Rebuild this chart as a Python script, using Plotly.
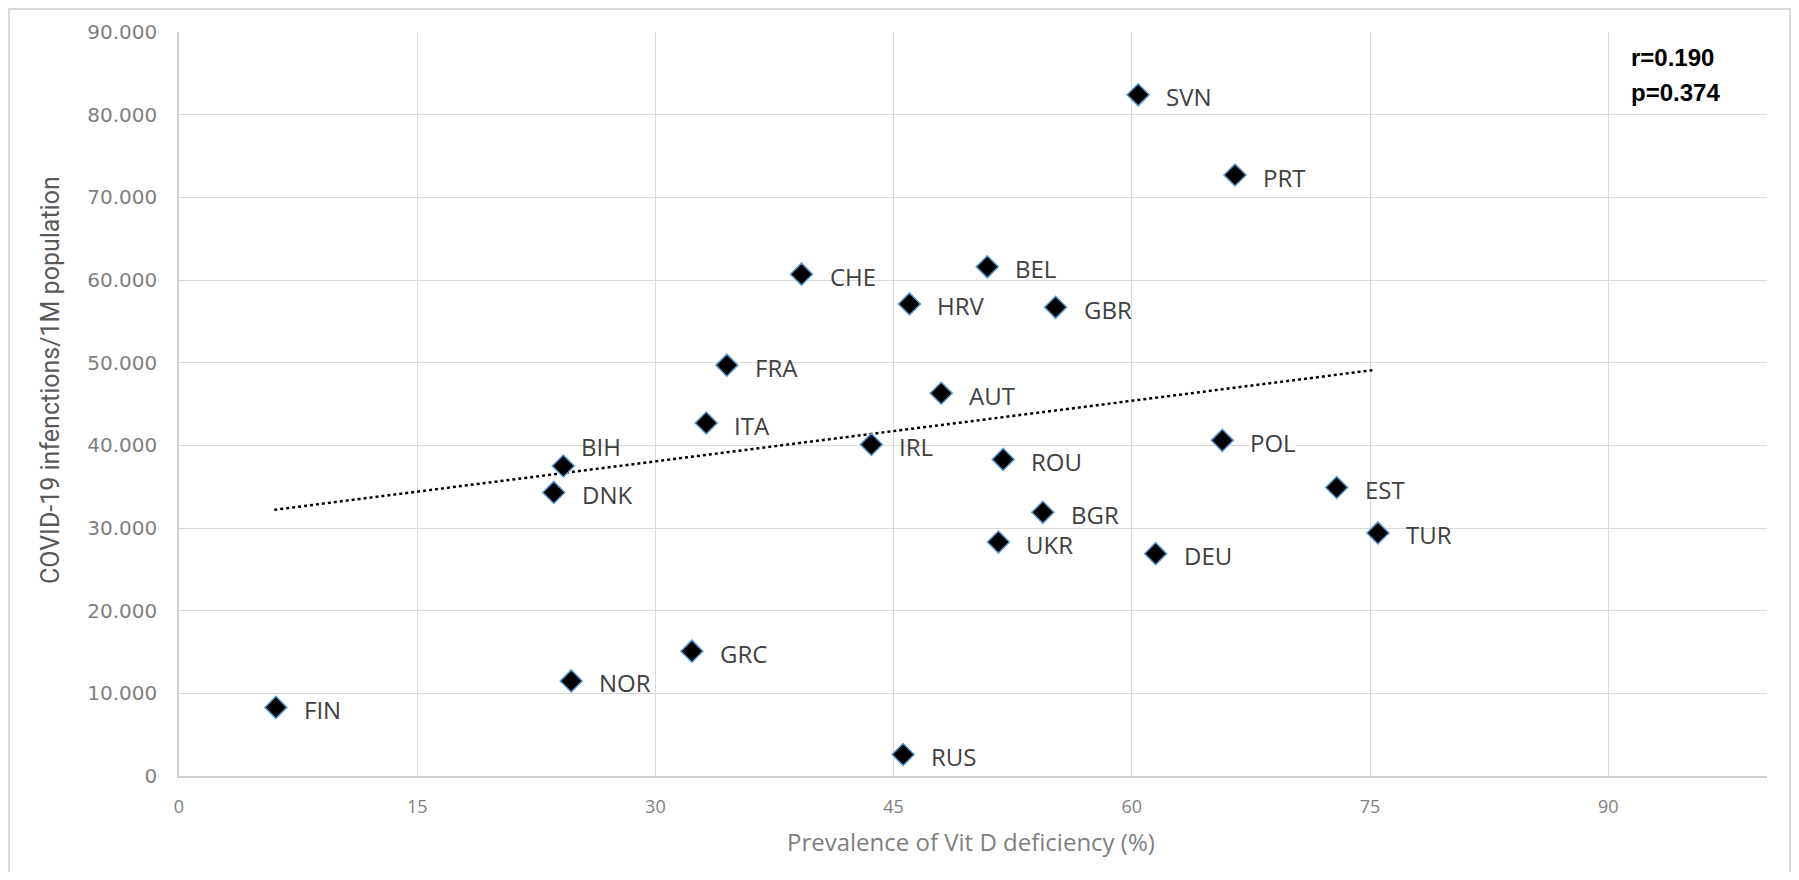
import plotly.graph_objects as go

countries = ["SVN", "PRT", "CHE", "BEL", "HRV", "GBR", "FRA", "AUT", "ITA", "IRL", "BIH", "DNK",
             "ROU", "POL", "EST", "BGR", "UKR", "DEU", "TUR", "GRC", "NOR", "FIN", "RUS"]
vitd_def = [60.4, 66.5, 39.2, 50.9, 46.0, 55.2, 34.5, 48.0, 33.2, 43.6, 24.2, 23.6,
            51.9, 65.7, 72.9, 54.4, 51.6, 61.5, 75.5, 32.3, 24.7, 6.1, 45.6]
infections = [82.4, 72.7, 60.7, 61.6, 57.1, 56.7, 49.7, 46.3, 42.7, 40.1, 37.5, 34.3,
              38.3, 40.6, 34.9, 31.9, 28.3, 26.9, 29.4, 15.1, 11.5, 8.3, 2.6]

# linear trend line as drawn in the reference
trend_x = [6.0, 75.2]
trend_y = [32.2, 49.1]

x_ticks = [0, 15, 30, 45, 60, 75, 90]
y_ticks = [0, 10, 20, 30, 40, 50, 60, 70, 80, 90]
y_tick_text = ["0", "10.000", "20.000", "30.000", "40.000", "50.000", "60.000", "70.000", "80.000", "90.000"]
stats_r = "r=0.190"
stats_p = "p=0.374"
x_title = "Prevalence of Vit D deficiency (%)"
y_title = "COVID-19 infenctions/1M population"

# page has an 8px body margin; figure sized to fit the window without scrollbars
W, H = 1783, 864
L, T = 171, 24
PR, PB = 1759, 768          # plot right / bottom in figure pixels
R, B = W - PR, H - PB
pw, ph = PR - L, PB - T


def px(v):
    return (v - L) / pw


def py(v):
    return (PB - v) / ph


fig = go.Figure()

fig.add_trace(go.Scatter(x=trend_x, y=trend_y, mode="lines",
                         line=dict(color="black", width=2.5, dash="dot"),
                         hoverinfo="skip", showlegend=False))

fig.add_trace(go.Scatter(x=vitd_def, y=infections, mode="markers",
                         marker=dict(symbol="diamond", size=17, color="black",
                                     line=dict(color="#5B9BD5", width=1.5)),
                         text=countries, showlegend=False))

annotations = []
for c, xv, yv in zip(countries, vitd_def, infections):
    xs, ys = 27, -2
    if c == "BIH":
        xs, ys = 17, 20
    annotations.append(dict(x=xv, y=yv, xref="x", yref="y", text=c, showarrow=False,
                            xanchor="left", yanchor="middle", xshift=xs, yshift=ys,
                            bgcolor="white" if c == "POL" else "rgba(0,0,0,0)",
                            borderpad=0,
                            font=dict(family="Open Sans", size=24, color="#404040")))

for txt, cy in [(stats_r, 50), (stats_p, 84)]:
    annotations.append(dict(x=px(1621), y=py(cy), xref="paper", yref="paper",
                            xanchor="left", yanchor="middle", text="<b>" + txt + "</b>",
                            showarrow=False,
                            font=dict(family="Liberation Sans", size=24, color="black")))

annotations.append(dict(x=px(963), y=py(834), xref="paper", yref="paper",
                        xanchor="center", yanchor="middle", text=x_title, showarrow=False,
                        font=dict(family="Open Sans", size=24, color="#7F7F7F")))
annotations.append(dict(x=px(42), y=py(372), xref="paper", yref="paper", textangle=-90,
                        xanchor="center", yanchor="middle", text=y_title, showarrow=False,
                        font=dict(family="Roboto", size=25, color="#595959")))

fig.update_layout(
    width=W, height=H,
    margin=dict(l=L, r=R, t=T, b=B, autoexpand=False),
    paper_bgcolor="white", plot_bgcolor="white",
    annotations=annotations,
    xaxis=dict(range=[0, 100], tickvals=x_ticks, showgrid=True, gridcolor="#D9D9D9", gridwidth=1,
               zeroline=False, showline=True, linecolor="#D0D0D0", linewidth=2,
               ticks="", ticklabelstandoff=13, automargin=False,
               tickfont=dict(family="Open Sans", size=18, color="#7F7F7F")),
    yaxis=dict(range=[0, 90], tickvals=y_ticks, ticktext=y_tick_text, showgrid=True,
               gridcolor="#D9D9D9", gridwidth=1, zeroline=False, showline=True,
               linecolor="#D0D0D0", linewidth=1.5, ticks="", ticklabelstandoff=16,
               automargin=False,
               tickfont=dict(family="DejaVu Sans", size=20, color="#7F7F7F")),
    shapes=[
        dict(type="line", xref="paper", yref="paper", x0=px(1), x1=px(1), y0=py(0), y1=py(H),
             line=dict(color="#D9D9D9", width=2)),
        dict(type="line", xref="paper", yref="paper", x0=px(0), x1=px(W), y0=py(1), y1=py(1),
             line=dict(color="#D9D9D9", width=2)),
        dict(type="line", xref="paper", yref="paper", x0=px(W - 1), x1=px(W - 1), y0=py(0), y1=py(H),
             line=dict(color="#D9D9D9", width=2)),
    ],
)

fig.write_html("out.html")
